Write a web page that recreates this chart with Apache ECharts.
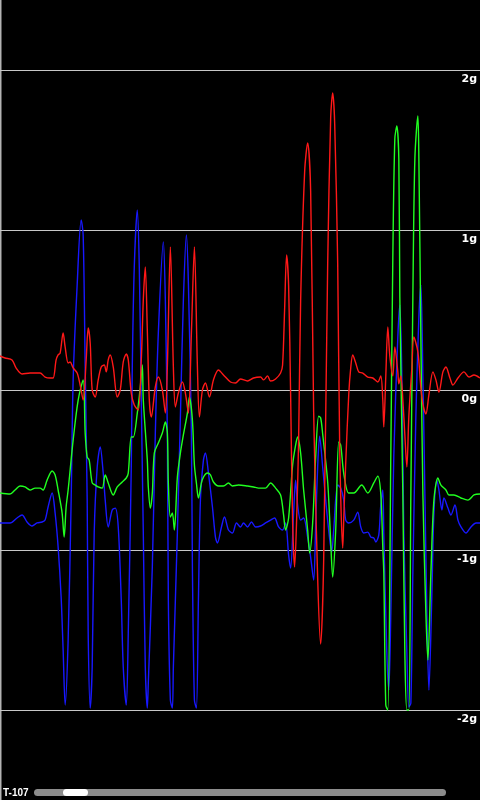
<!DOCTYPE html>
<html>
<head>
<meta charset="utf-8">
<script src="https://cdn.jsdelivr.net/npm/echarts@6/dist/echarts.min.js"></script>
<style>
html,body{margin:0;padding:0;background:#000;}
#chart{width:480px;height:800px;}
</style>
</head>
<body>
<div id="chart"></div>
<script>
// sample positions (time index) and values in g
const redX = [0,5,12,16,22,30,35,40,45,50,53,56,58,60,63,65,68,70,73,77,80,83,86,88,90,92,95,98,101,104,106,108,110,113,117,120,123,126,128,131,134,138,141,143,145,147,149,151,155,158,162,165,167,170,173,175,178,182,185,188,191,194,197,199,202,205,209,213,218,223,230,235,240,247,253,260,263,267,270,275,280,282,284,286,288,290,292,294,296,298,300,304,307,310,313,317,320,323,327,330,332,334,337,339,342,343,345,348,350,352,355,358,362,367,372,377,380,382,383,385,387,389,392,394,397,398,400,402,404,406,408,411,413,417,420,422,425,428,432,435,438,442,445,449,452,457,463,468,473,479];
const redG = [0.213,0.2,0.188,0.138,0.1,0.106,0.106,0.106,0.081,0.075,0.075,0.188,0.219,0.231,0.356,0.269,0.169,0.175,0.138,0.106,0.031,-0.063,0.188,0.388,0.294,0,-0.044,0.063,0.144,0.156,0.113,0.188,0.219,0.144,-0.044,0,0.175,0.225,0.188,-0.019,-0.094,-0.125,0.188,0.563,0.769,0.375,-0.063,-0.169,0.019,0.081,0,-0.144,0.144,0.894,0.144,-0.106,-0.019,0.05,-0.019,-0.144,0.356,0.894,0.144,-0.169,0,0.044,-0.044,0.063,0.125,0.094,0.05,0.044,0.069,0.056,0.075,0.081,0.063,0.088,0.056,0.069,0.106,0.156,0.5,0.844,0.656,-0.019,-0.825,-1.106,-0.813,-0.313,0.556,1.363,1.544,1.244,-0.138,-1.175,-1.588,-1.063,0.788,1.706,1.856,1.663,0.788,-0.369,-0.988,-0.813,-0.456,-0.031,0.138,0.219,0.169,0.113,0.106,0.081,0.075,0.05,0.088,-0.063,-0.231,0.088,0.394,0.213,0.088,0.269,0.113,0.038,0.088,-0.063,-0.281,-0.481,-0.163,0.138,0.331,0.238,0.013,-0.088,-0.15,-0.031,0.113,0.063,-0.013,0.113,0.144,0.075,0.031,0.075,0.113,0.081,0.094,0.075];

const greenX = [0,10,15,20,25,30,35,40,43,47,52,55,58,62,64,66,68,70,73,78,83,85,87,89,92,95,98,102,105,108,113,117,122,126,128,131,133,137,140,142,143,147,148,150,152,154,158,162,165,167,168,170,172,174,177,180,183,187,189,192,194,196,198,201,203,207,210,213,218,223,228,232,238,247,253,258,265,270,275,280,283,285,288,292,295,297,300,303,307,309,312,315,318,320,322,327,330,332,335,338,340,343,348,353,361,367,373,377,380,382,383,385,387,390,392,394,396,398,399,402,404,406,408,410,412,414,417,418,420,422,425,427,430,433,437,440,445,448,453,460,467,473,479];
const greenG = [-0.644,-0.65,-0.625,-0.6,-0.606,-0.625,-0.613,-0.613,-0.625,-0.563,-0.506,-0.531,-0.625,-0.769,-0.919,-0.731,-0.625,-0.5,-0.313,-0.063,0.063,-0.269,-0.419,-0.438,-0.581,-0.594,-0.606,-0.613,-0.531,-0.581,-0.656,-0.606,-0.575,-0.55,-0.519,-0.294,-0.294,-0.144,0.019,0.156,-0.063,-0.438,-0.606,-0.738,-0.644,-0.394,-0.331,-0.269,-0.2,-0.269,-0.581,-0.794,-0.769,-0.875,-0.544,-0.394,-0.281,-0.144,-0.044,-0.188,-0.469,-0.581,-0.675,-0.581,-0.544,-0.519,-0.531,-0.575,-0.6,-0.6,-0.581,-0.6,-0.594,-0.6,-0.606,-0.613,-0.613,-0.581,-0.613,-0.656,-0.781,-0.875,-0.8,-0.469,-0.344,-0.294,-0.394,-0.625,-0.875,-1.019,-0.831,-0.419,-0.163,-0.175,-0.275,-0.575,-0.944,-1.169,-0.875,-0.325,-0.344,-0.519,-0.644,-0.644,-0.594,-0.644,-0.581,-0.538,-0.65,-0.981,-1.144,-1.969,-2,-0.406,0.825,1.569,1.65,1.444,0.581,-0.65,-1.638,-2,-2,-0.65,0.581,1.444,1.713,1.444,0.331,-0.65,-1.394,-1.688,-1.144,-0.688,-0.55,-0.594,-0.625,-0.656,-0.656,-0.675,-0.688,-0.656,-0.65];

const blueX = [0,10,17,22,27,32,37,42,45,48,52,55,58,61,63,65,68,71,73,77,81,83,85,87,88,90,92,94,97,100,103,105,108,112,115,118,121,123,126,128,131,132,134,137,139,141,143,145,147,148,152,155,158,163,165,167,168,170,172,173,177,180,183,186,188,191,192,194,196,198,200,203,205,208,212,215,217,221,224,228,232,236,240,243,247,251,255,260,265,270,274,278,282,285,288,290,293,295,297,300,303,307,310,313,315,317,319,322,325,328,331,333,337,340,343,345,348,353,357,360,363,367,370,373,375,378,380,382,383,386,388,390,393,397,399,401,403,406,408,410,412,415,418,420,422,424,426,428,431,433,436,438,441,443,447,450,454,457,460,465,470,475,479];
const blueG = [-0.831,-0.831,-0.8,-0.781,-0.825,-0.85,-0.831,-0.825,-0.813,-0.731,-0.644,-0.769,-0.981,-1.294,-1.625,-1.969,-1.563,-0.688,0.063,0.656,1.063,0.969,0.144,-0.688,-1.519,-1.988,-1.731,-0.894,-0.481,-0.356,-0.519,-0.688,-0.856,-0.75,-0.738,-0.856,-1.313,-1.731,-1.969,-1.519,-0.481,0.144,0.769,1.125,0.769,-0.063,-0.894,-1.731,-1.988,-1.831,-1.106,-0.269,0.356,0.925,0.563,-0.269,-1.313,-1.938,-1.988,-1.731,-0.894,-0.169,0.563,0.969,0.669,-0.269,-1.106,-1.938,-1.988,-1.313,-0.688,-0.438,-0.394,-0.519,-0.731,-0.919,-0.956,-0.856,-0.794,-0.875,-0.894,-0.831,-0.856,-0.831,-0.856,-0.825,-0.856,-0.85,-0.831,-0.813,-0.8,-0.856,-0.875,-0.831,-1.031,-1.113,-0.769,-0.563,-0.719,-0.813,-0.8,-0.919,-1.044,-1.188,-0.844,-0.481,-0.288,-0.481,-0.688,-0.875,-1.013,-0.875,-0.594,-0.613,-0.688,-0.813,-0.831,-0.813,-0.763,-0.856,-0.894,-0.888,-0.919,-0.925,-0.95,-0.906,-0.719,-0.625,-0.9,-1.638,-1.875,-1.394,-0.406,0.331,0.531,0.088,-0.9,-1.638,-1.981,-1.956,-1.144,-0.163,0.456,0.656,0.088,-0.65,-1.394,-1.875,-1.269,-0.775,-0.563,-0.625,-0.75,-0.675,-0.738,-0.781,-0.719,-0.813,-0.856,-0.894,-0.856,-0.831,-0.831];

const yTicks = [-2, -1, 0, 1, 2];
const tickUnit = 'g';
const footerLabel = 'T-107';

function pairs(xs, ys) { return xs.map((x, i) => [x, ys[i]]); }

const chart = echarts.init(document.getElementById('chart'), null, {renderer: 'canvas'});

function mkSeries(name, xs, ys, color) {
  return {
    name: name, type: 'line', data: pairs(xs, ys),
    showSymbol: false, smooth: 0.3, clip: false, silent: true,
    lineStyle: {color: color, width: 1.4},
    itemStyle: {color: color}
  };
}

chart.setOption({
  backgroundColor: '#000',
  animation: false,
  grid: {left: 0, right: 0, top: 70, bottom: 90, containLabel: false},
  xAxis: {type: 'value', min: 0, max: 479, show: false},
  yAxis: {
    type: 'value', position: 'right',
    min: yTicks[0], max: yTicks[yTicks.length - 1], interval: 1,
    axisLine: {show: false}, axisTick: {show: false},
    axisLabel: {
      inside: true, margin: 3, color: '#fff', fontSize: 11, fontWeight: 'bold',
      fontFamily: 'DejaVu Sans', verticalAlign: 'top', padding: [4, 0, 0, 0],
      formatter: v => v + tickUnit
    },
    splitLine: {show: true, lineStyle: {color: '#c8c8c8', width: 1}}
  },
  series: [
    mkSeries('Z', blueX, blueG, '#1818ff'),
    mkSeries('Y', greenX, greenG, '#20ff20'),
    mkSeries('X', redX, redG, '#ff1818')
  ],
  graphic: [
    {type: 'line', shape: {x1: 0.75, y1: 0, x2: 0.75, y2: 800}, style: {stroke: '#b4b4b4', lineWidth: 1.5}, silent: true},
    {type: 'rect', shape: {x: 34, y: 789, width: 412, height: 7, r: 3.5}, style: {fill: '#8c8c8c'}, silent: true},
    {type: 'rect', shape: {x: 63, y: 789, width: 25, height: 7, r: 3.5}, style: {fill: '#ffffff'}, silent: true},
    {type: 'text', left: 3, top: 788, style: {text: footerLabel, fill: '#fff', font: 'bold 10px Liberation Sans'}, silent: true}
  ]
});
</script>
</body>
</html>
